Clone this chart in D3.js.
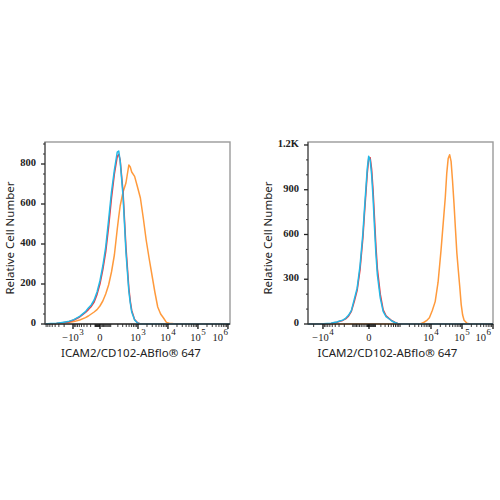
<!DOCTYPE html>
<html>
<head>
<meta charset="utf-8">
<script src="https://cdn.jsdelivr.net/npm/d3@7"></script>
<style>
  body { margin: 0; background: #fff; }
  svg { display: block; }
</style>
</head>
<body>
<script>
// histogram bins are display channels (0-256 across the axis)
const leftBins = [0, 8, 16, 24, 32, 40, 48, 56, 60, 64, 68, 72, 76, 80, 84, 88, 92, 96, 100, 102,
    104, 108, 112, 116, 118, 120, 124, 128, 132, 136, 140, 144, 148, 152, 156, 160, 164, 168, 172, 176, 180, 256];
const leftBlue = [0, 2, 4, 8, 12, 22, 38, 62, 80, 95, 120, 160, 215, 290, 385, 520, 660, 770, 860, 865,
    815, 640, 360, 165, 105, 60, 20, 5, 0, 0, 0, 0, 0, 0, 0, 0, 0, 0, 0, 0, 0, 0];
const leftRed = [0, 1, 3, 6, 10, 20, 35, 58, 72, 88, 110, 148, 200, 272, 360, 485, 630, 750, 838, 848,
    820, 660, 385, 180, 115, 68, 22, 6, 0, 0, 0, 0, 0, 0, 0, 0, 0, 0, 0, 0, 0, 0];
const leftOrange = [0, 1, 2, 4, 7, 12, 20, 32, 40, 50, 60, 72, 90, 115, 150, 195, 260, 345, 475, 535,
    590, 660, 705, 795, 785, 760, 738, 685, 630, 530, 420, 330, 245, 160, 85, 50, 30, 8, 4, 2, 0, 0];

const rightBins = [0, 16, 32, 36, 40, 44, 48, 52, 56, 60, 64, 68, 72, 76, 78, 80, 82, 84, 86, 88,
    90, 92, 94, 96, 100, 104, 108, 112, 116, 120, 124, 128, 150, 156, 160, 164, 168, 172, 176, 180,
    184, 188, 190, 192, 194, 196, 198, 200, 202, 204, 206, 208, 210, 212, 214, 216, 220, 224, 256];
const rightBlue = [0, 0, 5, 10, 14, 20, 26, 38, 58, 90, 165, 240, 390, 610, 760, 900, 1040, 1125, 1100, 1005,
    850, 650, 470, 330, 175, 85, 50, 35, 20, 10, 3, 0, 0, 0, 0, 0, 0, 0, 0, 0,
    0, 0, 0, 0, 0, 0, 0, 0, 0, 0, 0, 0, 0, 0, 0, 0, 0, 0, 0];
const rightRed = [0, 0, 4, 8, 12, 18, 24, 34, 52, 85, 150, 225, 365, 580, 730, 870, 1010, 1110, 1115, 1040,
    900, 710, 520, 370, 200, 95, 55, 38, 22, 12, 4, 0, 0, 0, 0, 0, 0, 0, 0, 0,
    0, 0, 0, 0, 0, 0, 0, 0, 0, 0, 0, 0, 0, 0, 0, 0, 0, 0, 0];
const rightOrange = [0, 0, 0, 0, 0, 0, 0, 0, 0, 0, 0, 0, 0, 0, 0, 0, 0, 0, 0, 0,
    0, 0, 0, 0, 0, 0, 0, 0, 0, 0, 0, 0, 0, 2, 10, 22, 42, 90, 150, 280,
    490, 730, 850, 1010, 1110, 1135, 1090, 960, 810, 640, 475, 360, 250, 130, 60, 25, 5, 0, 0];

// axis ticks
const leftXTicks = [-1e3, 0, 1e3, 1e4, 1e5, 1e6];
const leftXLabels = ["-10^3", "0", "10^3", "10^4", "10^5", "10^6"];
const rightXTicks = [-1e4, 0, 1e4, 1e5, 1e6];
const rightXLabels = ["-10^4", "0", "10^4", "10^5", "10^6"];
const leftYTicks = [0, 200, 400, 600, 800];
const leftYLabels = ["0", "200", "400", "600", "800"];
const rightYTicks = [0, 300, 600, 900, 1200];
const rightYLabels = ["0", "300", "600", "900", "1.2K"];

const xTitle = "ICAM2/CD102-ABflo® 647";
const yTitle = "Relative Cell Number";

const colors = { orange: "#ff9a3c", red: "#f2353d", blue: "#22b8e6" };

const svg = d3.select("body").append("svg")
    .attr("width", 500)
    .attr("height", 500);

const width = 185, height = 182;

// biexponential display transform: value -> channel
function toChannel(v, p) {
    return v >= 0 ? p.zero + p.k * Math.asinh(v / p.cPos)
                  : p.zero - p.k * Math.asinh(-v / p.cNeg);
}

function drawPanel(opt) {
    const g = svg.append("g").attr("transform", `translate(${opt.left}, ${opt.top})`);

    const x = d3.scaleLinear().domain([0, 256]).range([0, width]);
    const y = d3.scaleLinear().domain([0, opt.yMax]).range([height, 0]);

    // frame
    g.append("rect")
        .attr("width", width).attr("height", height)
        .attr("fill", "none").attr("stroke", "#9a9a9a").attr("stroke-width", 1.4);

    // histograms
    const line = d3.line().x((d) => x(d[0])).y((d) => y(d[1]));
    opt.series.forEach((s) => {
        g.append("path")
            .datum(opt.bins.map((b, i) => [b, s.values[i]]))
            .attr("fill", "none")
            .attr("stroke", s.color)
            .attr("stroke-width", 1.5)
            .attr("stroke-linejoin", "round")
            .attr("d", line);
    });

    // y axis
    const yAxis = g.append("g").attr("class", "axis");
    yAxis.append("line").attr("x1", 0).attr("x2", 0).attr("y1", 0).attr("y2", height)
        .attr("stroke", "#555").attr("stroke-width", 1.2);
    yAxis.selectAll("line.minor")
        .data(d3.range(0, opt.yMax, opt.yMinor).filter((v) => !opt.yTicks.includes(v)))
        .enter().append("line")
        .attr("class", "minor")
        .attr("x1", -2).attr("x2", 0)
        .attr("y1", (d) => y(d)).attr("y2", (d) => y(d))
        .attr("stroke", "#333");
    yAxis.selectAll("line.major")
        .data(opt.yTicks)
        .enter().append("line")
        .attr("class", "major")
        .attr("x1", -4).attr("x2", 0)
        .attr("y1", (d) => y(d)).attr("y2", (d) => y(d))
        .attr("stroke", "#222").attr("stroke-width", 1.3);
    yAxis.selectAll("text")
        .data(opt.yTicks)
        .enter().append("text")
        .attr("x", -9)
        .attr("y", (d) => y(d))
        .attr("dy", "0.2em")
        .attr("text-anchor", "end")
        .attr("font-family", "Liberation Serif")
        .attr("font-weight", "bold")
        .attr("font-size", 10.5)
        .attr("fill", "#222")
        .text((d, i) => opt.yLabels[i]);

    // x axis
    const xAxis = g.append("g").attr("transform", `translate(0, ${height})`);
    xAxis.append("line").attr("x1", 0).attr("x2", width)
        .attr("stroke", "#333").attr("stroke-width", 1.3);

    const minors = [];
    for (let e = 1; e <= 6; e++) {
        for (let m = 1; m <= 9; m++) {
            minors.push(m * Math.pow(10, e), -m * Math.pow(10, e));
        }
    }
    xAxis.selectAll("line.minor")
        .data(minors.filter((v) => !opt.xTicks.includes(v))
            .map((v) => toChannel(v, opt.tf))
            .filter((c) => c > 0.5 && c < 255.5))
        .enter().append("line")
        .attr("class", "minor")
        .attr("x1", (d) => x(d)).attr("x2", (d) => x(d))
        .attr("y1", 0).attr("y2", 3)
        .attr("stroke", "#222").attr("stroke-width", 0.9);
    xAxis.selectAll("line.major")
        .data(opt.xTicks)
        .enter().append("line")
        .attr("class", "major")
        .attr("x1", (d) => x(toChannel(d, opt.tf))).attr("x2", (d) => x(toChannel(d, opt.tf)))
        .attr("y1", 0).attr("y2", 5)
        .attr("stroke", "#111").attr("stroke-width", 1.3);

    // tick labels: base and exponent as separate texts, centred on the tick together
    opt.xTicks.forEach((d, i) => {
        const parts = opt.xLabels[i].split("^");
        const base = xAxis.append("text")
            .attr("y", 17)
            .attr("font-family", "Liberation Serif")
            .attr("font-size", 10.5)
            .attr("fill", "#222")
            .text(parts[0].replace("-", "\u2212"));
        let exp = null;
        if (parts[1]) {
            exp = xAxis.append("text")
                .attr("y", 11)
                .attr("font-family", "Liberation Serif")
                .attr("font-size", 9)
                .attr("fill", "#222")
                .text(parts[1]);
        }
        const wb = base.node().getComputedTextLength();
        const we = exp ? exp.node().getComputedTextLength() + 0.5 : 0;
        const last = i === opt.xTicks.length - 1;
        const x0 = last ? width - 2 - wb - we : x(toChannel(d, opt.tf)) - (wb + we) / 2;
        base.attr("x", x0);
        if (exp) exp.attr("x", x0 + wb + 0.5);
    });

    // titles
    g.append("text")
        .attr("x", opt.xTitleX)
        .attr("y", height + 32.5)
        .attr("text-anchor", "middle")
        .attr("font-family", "Noto Sans")
        .attr("font-size", 11.5)
        .attr("fill", "#222")
        .text(xTitle);

    g.append("text")
        .attr("transform", `translate(${opt.yTitleX}, ${height / 2 + 5}) rotate(-90)`)
        .attr("text-anchor", "middle")
        .attr("font-family", "Noto Sans")
        .attr("font-size", 11.5)
        .attr("fill", "#222")
        .text(yTitle);
}

drawPanel({
    left: 45, top: 142,
    bins: leftBins,
    series: [
        { values: leftOrange, color: colors.orange },
        { values: leftRed, color: colors.red },
        { values: leftBlue, color: colors.blue }
    ],
    yMax: 910, yTicks: leftYTicks, yLabels: leftYLabels, yMinor: 50,
    xTicks: leftXTicks, xLabels: leftXLabels,
    tf: { zero: 76.1, k: 18.03, cPos: 108.6, cNeg: 256 },
    xTitleX: 86, yTitleX: -31
});

drawPanel({
    left: 308, top: 142,
    bins: rightBins,
    series: [
        { values: rightOrange, color: colors.orange },
        { values: rightRed, color: colors.red },
        { values: rightBlue, color: colors.blue }
    ],
    yMax: 1220, yTicks: rightYTicks, yLabels: rightYLabels, yMinor: 100,
    xTicks: rightXTicks, xLabels: rightXLabels,
    tf: { zero: 84.4, k: 18.63, cPos: 199.8, cNeg: 656 },
    xTitleX: 79.5, yTitleX: -36
});
</script>
</body>
</html>
